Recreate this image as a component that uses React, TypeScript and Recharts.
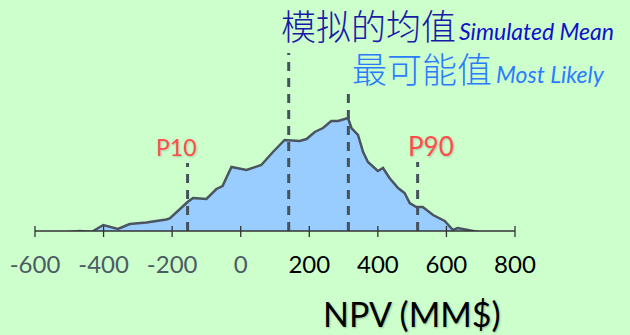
import React from 'react';
import { AreaChart, Area, XAxis, YAxis, ReferenceLine } from 'recharts';

// NPV bins (MM$) and simulated frequency heights
const npv = [-513, -469, -435, -401, -358, -324, -275, -217, -207, -155, -139, -100, -71, -53, -27, 17, 60, 94, 128, 172, 192, 216, 240, 264, 284, 313, 323, 342, 357, 371, 400, 415, 434, 459, 478, 493, 512, 531, 561, 595, 619, 633, 663, 706];
const freq = [-1.5, 0, -1, 6, 2, 7, 8.5, 11.5, 12.5, 29, 33, 32, 42, 45, 64, 61, 66, 79, 91, 90, 92, 99, 103, 110, 110, 113, 103, 96, 79, 69, 60, 63, 53, 43, 38, 28, 24, 24, 16, 10, 1, 3, 1, -2];
const xTicks = [-600, -400, -200, 0, 200, 400, 600, 800];

// marker positions (NPV) and how tall each dashed line is drawn
const p10 = { x: -155, top: 68 };
const mean = { x: 140, top: 178 };
const mostLikely = { x: 314, top: 143 };
const p90 = { x: 516, top: 69 };

const data = npv.map((v, i) => ({ npv: v, freq: freq[i] }));

const LATIN = 'Lato, "Open Sans", sans-serif';
const CJK = '"Noto Sans CJK SC", sans-serif';

function Tick(props: any) {
  const { x, y, payload } = props;
  const v = payload.value as number;
  return (
    <g>
      <line x1={x} x2={x} y1={y - 5} y2={y + 6} stroke="#333" strokeWidth={1.3} />
      <text x={x} y={y + 42} textAnchor="middle" fontFamily={LATIN} fontSize={24} fill={v > 0 ? '#000' : '#4d5b63'}>
        {v}
      </text>
    </g>
  );
}

const dashStyle = { stroke: '#45525c', strokeWidth: 3, strokeDasharray: '9 7' };

export default function App() {
  return (
    <div style={{ position: 'fixed', left: 0, top: 0, width: 630, height: 335, background: '#ccffcc', overflow: 'hidden' }}>
      <AreaChart width={630} height={335} data={data} margin={{ top: 51, right: 115, bottom: 0, left: 35 }}>
        <XAxis
          dataKey="npv"
          type="number"
          domain={[-600, 800]}
          ticks={xTicks}
          tickSize={0}
          tickMargin={0}
          tick={<Tick />}
          height={104}
          axisLine={{ stroke: '#333', strokeWidth: 1.3 }}
          tickLine={false}
        />
        <YAxis hide domain={[0, 180]} allowDataOverflow />
        <Area
          type="linear"
          dataKey="freq"
          baseValue={0}
          stroke="#4a5560"
          strokeWidth={2.5}
          fill="#99ccff"
          fillOpacity={1}
          isAnimationActive={false}
        />
        {[p10, mean, mostLikely, p90].map((m, i) => (
          <ReferenceLine key={i} segment={[{ x: m.x, y: 0 }, { x: m.x, y: m.top }]} {...dashStyle} ifOverflow="visible" />
        ))}
      </AreaChart>

      <div style={{ position: 'absolute', left: 281, top: 7, lineHeight: 1, whiteSpace: 'nowrap', display: 'flex', alignItems: 'baseline' }}>
        <span style={{ fontFamily: CJK, fontWeight: 300, fontSize: 35, color: '#1a1aa6' }}>模拟的均值</span>
        <span style={{ fontFamily: LATIN, fontStyle: 'italic', fontSize: 23, color: '#1010cc', marginLeft: 3 }}>Simulated Mean</span>
      </div>
      <div style={{ position: 'absolute', left: 352, top: 50, lineHeight: 1, whiteSpace: 'nowrap', display: 'flex', alignItems: 'baseline' }}>
        <span style={{ fontFamily: CJK, fontWeight: 300, fontSize: 35, color: '#2a7cff' }}>最可能值</span>
        <span style={{ fontFamily: LATIN, fontStyle: 'italic', fontSize: 23, color: '#2a7cff', marginLeft: 4 }}>Most Likely</span>
      </div>
      <div style={{ position: 'absolute', left: 156, top: 133, fontFamily: LATIN, fontSize: 23, color: '#ff4d4d', textShadow: '1px 1px 2px rgba(0,0,0,0.2)' }}>P10</div>
      <div style={{ position: 'absolute', left: 408, top: 130, fontFamily: LATIN, fontSize: 26, color: '#ff4d4d', textShadow: '1px 1px 2px rgba(0,0,0,0.2)' }}>P90</div>
      <div style={{ position: 'absolute', left: 323, top: 293, fontFamily: LATIN, fontSize: 34, color: '#000', whiteSpace: 'nowrap', textShadow: '1px 1px 2px rgba(0,0,0,0.25)' }}>NPV (MM$)</div>
    </div>
  );
}
